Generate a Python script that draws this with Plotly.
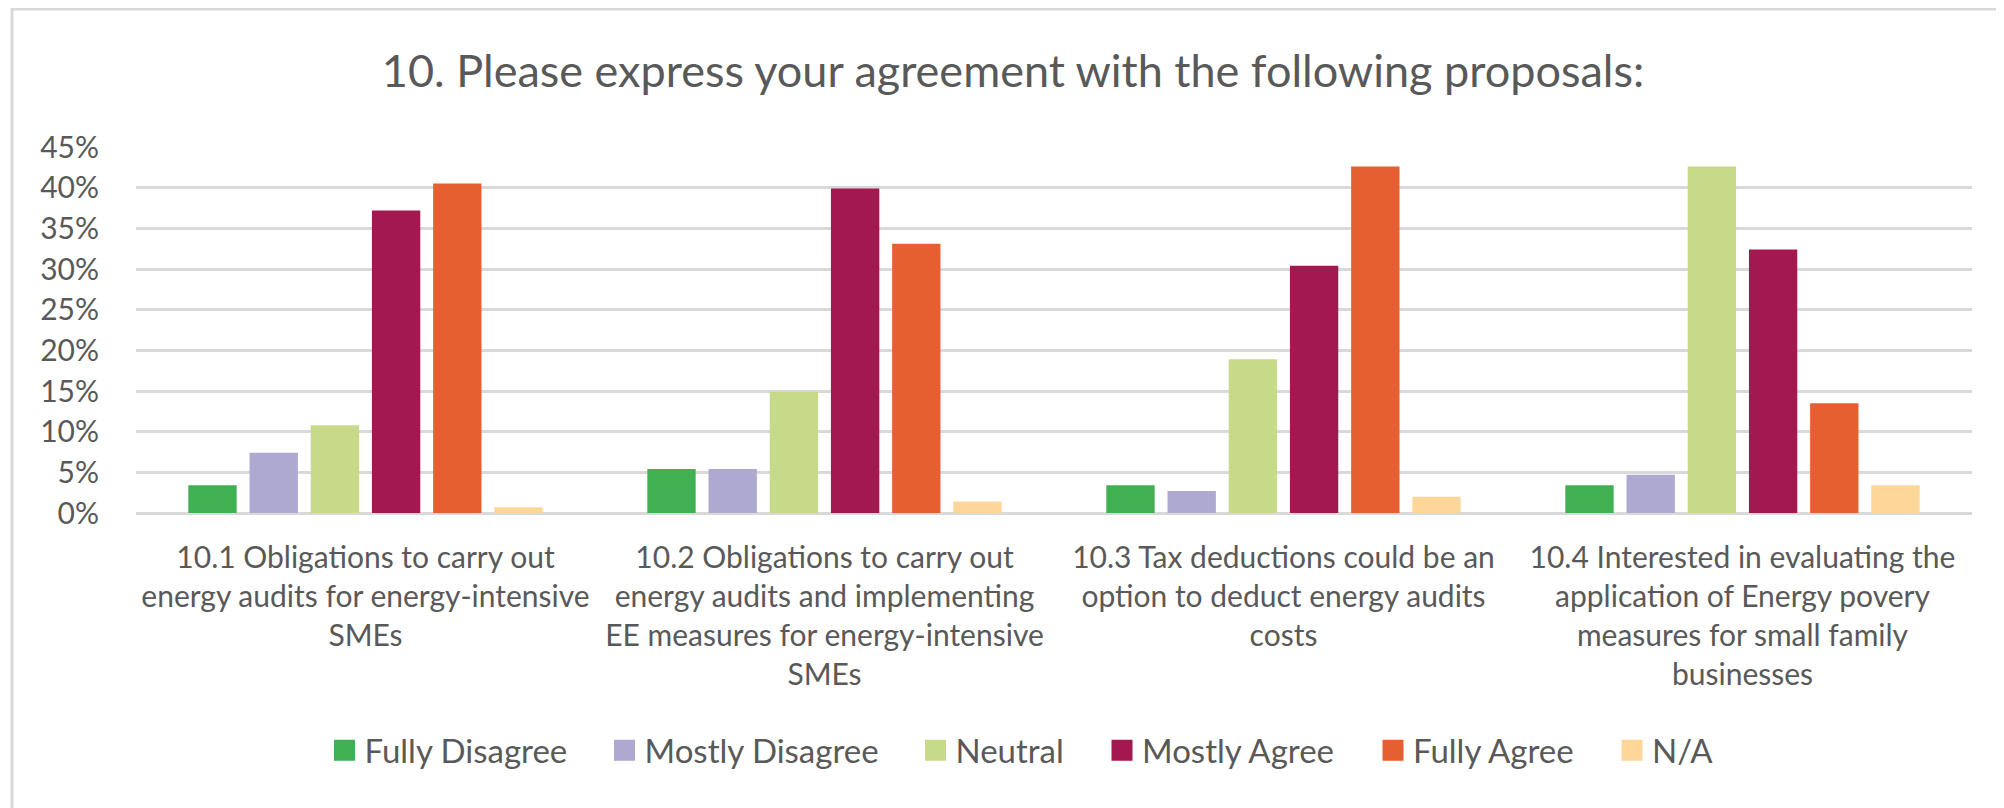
import plotly.graph_objects as go

categories = [
    "10.1 Obligations to carry out<br>energy audits for energy-intensive<br>SMEs",
    "10.2 Obligations to carry out<br>energy audits and implementing<br>EE measures for energy-intensive<br>SMEs",
    "10.3 Tax deductions could be an<br>option to deduct energy audits<br>costs",
    "10.4 Interested in evaluating the<br>application of Energy povery<br>measures for small family<br>businesses",
]
series_names = ["Fully Disagree", "Mostly Disagree", "Neutral", "Mostly Agree", "Fully Agree", "N/A"]
fully_disagree = [3.4, 5.4, 3.4, 3.4]
mostly_disagree = [7.4, 5.4, 2.7, 4.7]
neutral = [10.8, 14.9, 18.9, 42.6]
mostly_agree = [37.2, 39.9, 30.4, 32.4]
fully_agree = [40.5, 33.1, 42.6, 13.5]
not_applicable = [0.7, 1.4, 2.0, 3.4]
series_values = [fully_disagree, mostly_disagree, neutral, mostly_agree, fully_agree, not_applicable]
y_tick_values = [0, 5, 10, 15, 20, 25, 30, 35, 40, 45]
y_tick_labels = ["0%", "5%", "10%", "15%", "20%", "25%", "30%", "35%", "40%", "45%"]

colors = ["#41b053", "#ada9d1", "#c6da8a", "#a3194f", "#e65f31", "#ffd699"]

FONT = "Lato"
TXT = "#595959"
OFF = 8                      # default page body margin
W, H = 2004 - OFF, 808 - OFF
PL, PR = 136 - OFF, 1972 - OFF
PT, PB = 146.7 - OFF, 513.3 - OFF
PW, PH = PR - PL, PB - PT

# legend symbol centres (page px)
legend_centers_px = [344.5, 624.5, 935.5, 1122, 1393, 1632]
legend_mid_y = 751 - OFF

fig = go.Figure()
for i, (name, vals) in enumerate(zip(series_names, series_values)):
    fig.add_trace(go.Bar(
        name=name, x=categories, y=vals,
        marker=dict(color=colors[i], line=dict(width=0)),
        legendgroup=name, showlegend=False, hoverinfo="name+y",
    ))
# legend entries (square swatches)
for i, name in enumerate(series_names):
    lg = "legend" if i == 0 else f"legend{i+1}"
    fig.add_trace(go.Scatter(
        name=name, x=[None], y=[None], mode="markers",
        marker=dict(symbol="square", size=16, color=colors[i],
                    line=dict(color=colors[i], width=5)),
        legendgroup=name, legend=lg, showlegend=True, hoverinfo="skip",
    ))

layout_legends = {}
for i, c in enumerate(legend_centers_px):
    lg = "legend" if i == 0 else f"legend{i+1}"
    layout_legends[lg] = dict(
        x=(c - OFF - 20 - PL) / PW, xanchor="left",
        y=(PB - legend_mid_y) / PH, yanchor="middle",
        orientation="h", bgcolor="rgba(0,0,0,0)", itemsizing="trace",
        font=dict(family=FONT, size=33, color=TXT),
    )

fig.update_layout(
    width=W, height=H,
    margin=dict(l=PL, r=W - PR, t=PT, b=H - PB, pad=0, autoexpand=False),
    paper_bgcolor="white", plot_bgcolor="white",
    barmode="group", bargap=0.2, bargroupgap=0.21,
    title=dict(
        text="10. Please express your agreement with the following proposals:",
        x=(1013 - OFF) / W, xref="container", xanchor="center",
        y=1 - (71 - OFF) / H, yref="container", yanchor="middle",
        font=dict(family=FONT, size=45, color=TXT),
    ),
    xaxis=dict(
        showgrid=False, showline=False, zeroline=False, ticks="",
        tickfont=dict(family=FONT, size=30, color=TXT),
        ticklabelstandoff=24,
    ),
    yaxis=dict(
        range=[0, 45], tickmode="array", tickvals=y_tick_values, ticktext=y_tick_labels,
        showgrid=True, gridcolor="#d9d9d9", gridwidth=3,
        zeroline=True, zerolinecolor="#d9d9d9", zerolinewidth=3,
        showline=False, ticks="",
        tickfont=dict(family=FONT, size=30, color=TXT),
        ticklabelstandoff=36,
    ),
    showlegend=True,
    shapes=[dict(
        type="rect", xref="paper", yref="paper",
        x0=(12 - OFF - PL) / PW, x1=(2040 - OFF - PL) / PW,
        y0=(PB - 840) / PH, y1=(PB - 0.5) / PH,
        line=dict(color="#d9d9d9", width=3), fillcolor="rgba(0,0,0,0)", layer="below",
    )],
    **layout_legends,
)

fig.write_html("out.html")
